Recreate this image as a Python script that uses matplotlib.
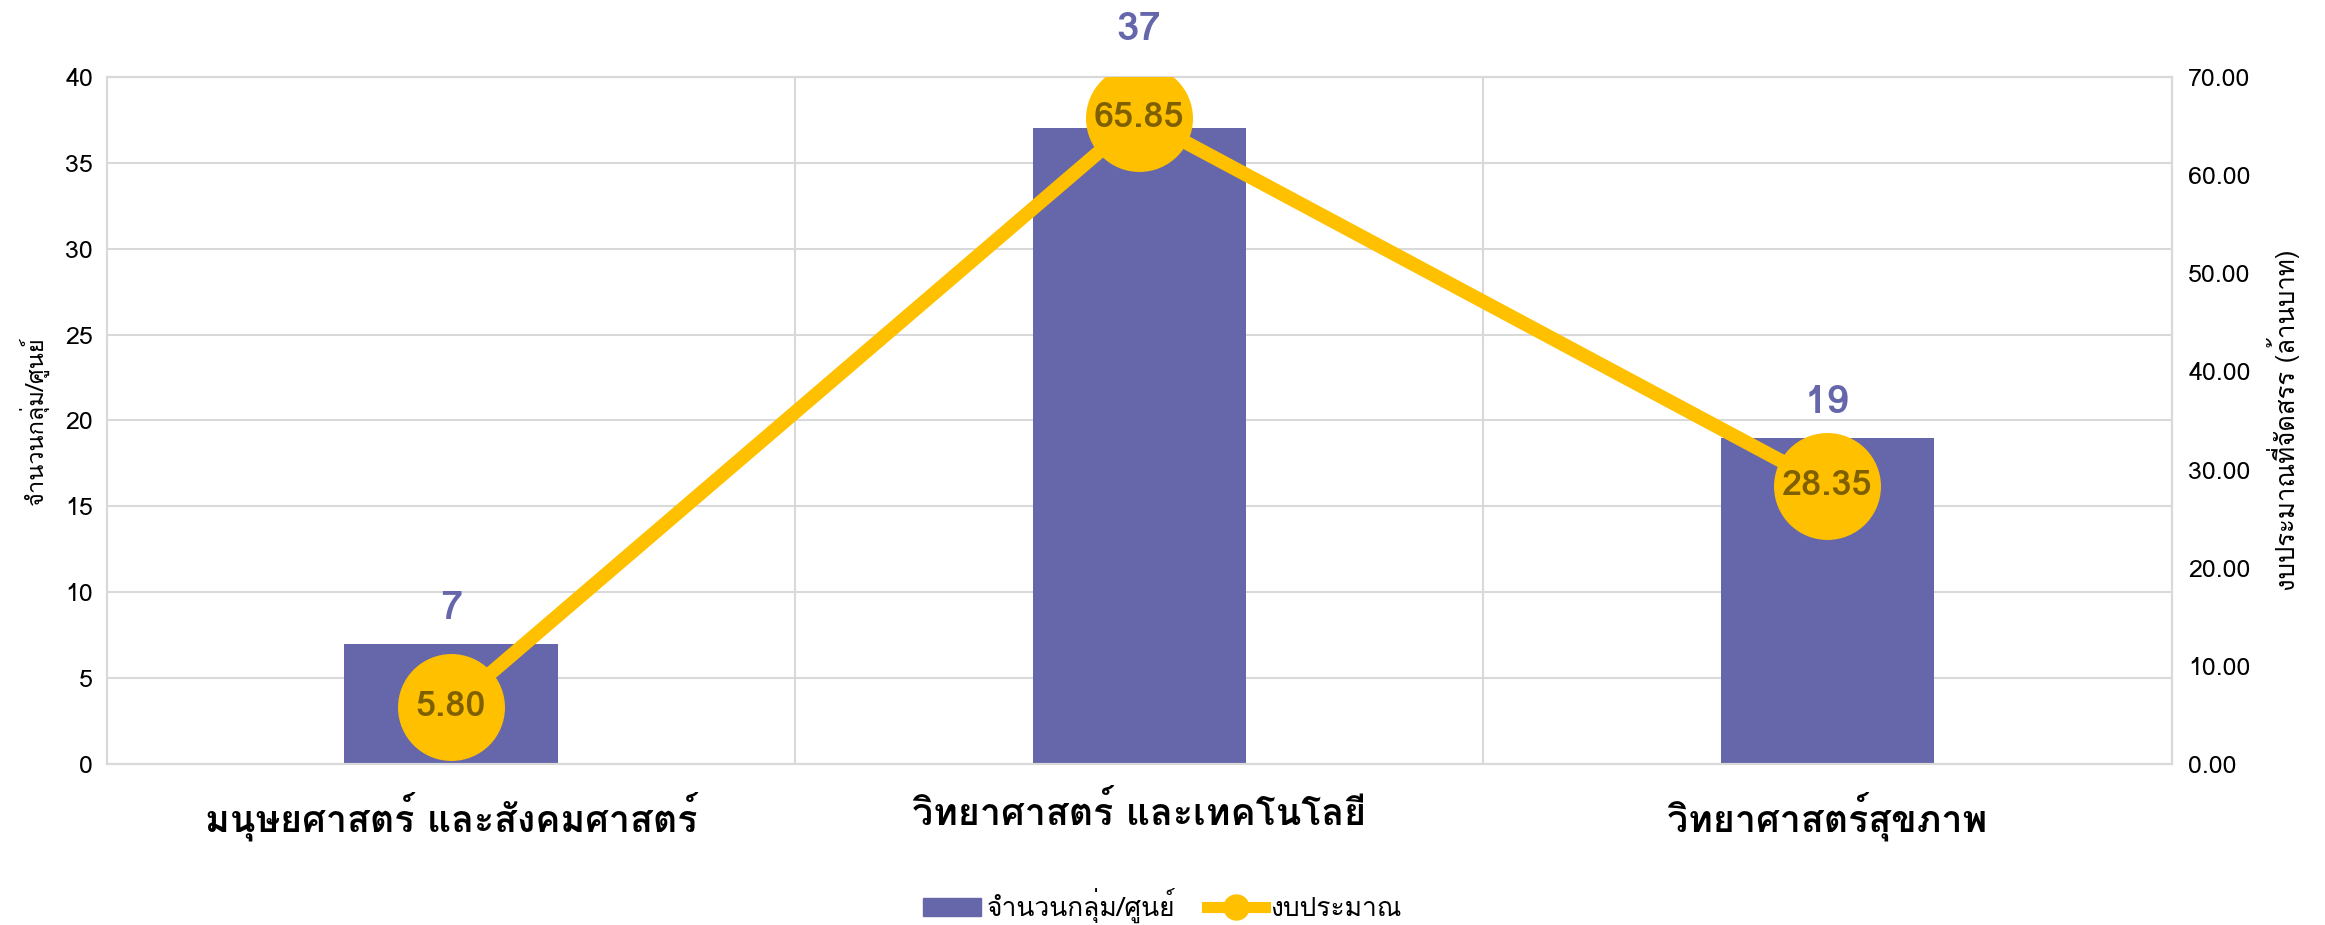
import numpy as np
import matplotlib
matplotlib.use("Agg")
import matplotlib.pyplot as plt
from matplotlib import font_manager
from matplotlib.ft2font import FT2Font
from matplotlib.lines import Line2D
from matplotlib.patches import Patch

# data
categories = ["มนุษยศาสตร์ และสังคมศาสตร์", "วิทยาศาสตร์ และเทคโนโลยี", "วิทยาศาสตร์สุขภาพ"]
groups = [7, 37, 19]
budget = [5.80, 65.85, 28.35]
bar_name = "จำนวนกลุ่ม/ศูนย์"
line_name = "งบประมาณ"
left_label = "จำนวนกลุ่ม/ศูนย์"
right_label = "งบประมาณที่จัดสรร (ล้านบาท)"

BAR = "#6667AB"
GOLD = "#FFC000"
BROWN = "#7F6000"
GRID = "#D9D9D9"


def thai_fonts():
    # look for any installed family that has Thai glyphs
    found = []
    for f in font_manager.fontManager.ttflist:
        try:
            cmap = FT2Font(f.fname).get_charmap()
        except Exception:
            continue
        if 0x0E01 in cmap and f.name not in found:
            found.append(f.name)
    return found


families = thai_fonts() + ["DejaVu Sans"]
plt.rcParams["font.family"] = families

fig = plt.figure(figsize=(23.25, 9.25), dpi=100)
ax = fig.add_axes([0.046, 0.174, 0.888, 0.743])
ax2 = ax.twinx()

x = np.arange(len(categories))
ax.bar(x, groups, width=0.31, color=BAR, zorder=2)
ax.set_xlim(-0.5, 2.5)
ax.set_ylim(0, 40)
ax.set_yticks(np.arange(0, 41, 5))
ax2.set_ylim(0, 70)
ax2.set_yticks(np.arange(0, 71, 10))
ax2.set_yticklabels([f"{v:.2f}" for v in np.arange(0, 71, 10)])

ax.set_xticks(x)
ax.set_xticklabels(categories, fontsize=27, fontweight="bold")
ax.set_xticks([0.5, 1.5], minor=True)
ax.tick_params(axis="x", which="both", length=0, pad=20)
ax.tick_params(axis="y", length=0, labelsize=18, pad=10)
ax2.tick_params(axis="y", length=0, labelsize=18, pad=12)

ax.grid(axis="y", color=GRID, lw=1.5, zorder=0)
ax.grid(axis="x", which="minor", color=GRID, lw=1.5, zorder=0)
ax.set_axisbelow(True)
for a in (ax, ax2):
    for s in a.spines.values():
        s.set_color(GRID)
        s.set_linewidth(1.5)

ax.set_ylabel(left_label, fontsize=17, labelpad=12)
ax2.set_ylabel(right_label, fontsize=18.5, labelpad=12)

ax2.plot(x, budget, color=GOLD, lw=10, marker="o", markersize=76,
         markerfacecolor=GOLD, markeredgecolor=GOLD, zorder=3)

# value labels
bar_offsets = [12, 58, 12]
for xi, g, off in zip(x, groups, bar_offsets):
    ax.annotate(str(g), (xi, g), xytext=(0, off), textcoords="offset points",
                ha="center", va="bottom", fontsize=29, fontweight="bold", color=BAR)
for xi, b in zip(x, budget):
    ax2.annotate(f"{b:.2f}", (xi, b), ha="center", va="center",
                 fontsize=26, fontweight="bold", color=BROWN, zorder=4)

handles = [Patch(color=BAR, label=bar_name),
           Line2D([0], [0], color=GOLD, lw=8, marker="o", markersize=18, label=line_name)]
fig.legend(handles=handles, loc="lower center", bbox_to_anchor=(0.5, -0.024), ncol=2,
           frameon=False, fontsize=19, handlelength=2.2, handletextpad=0.2, columnspacing=1.2)

fig.savefig("out.png", dpi=100)
